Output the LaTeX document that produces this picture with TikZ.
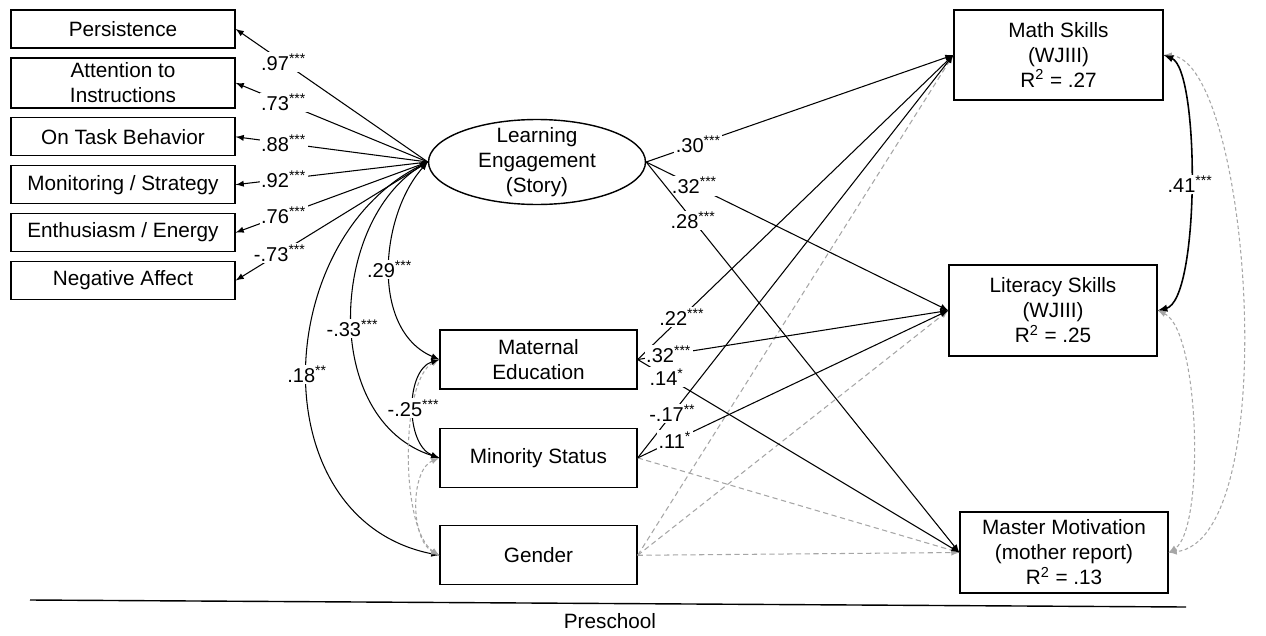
\documentclass[tikz,border=0pt]{standalone}
\usepackage{fontspec}
\setmainfont{Liberation Sans}
\usepackage{tikz}
\usetikzlibrary{positioning}
\usetikzlibrary{shapes.geometric}

\begin{document}
\begin{tikzpicture}[x=0.02cm, y=-0.02cm,
		font=\fontsize{11.8}{14.2}\selectfont,
		box/.style={draw, rectangle, line width=0.8pt, align=center, inner sep=1pt},
		coef/.style={fill=white, inner sep=0.8pt, font=\fontsize{11.4}{13}\selectfont},
		arr/.style={-latex, line width=0.6pt},
		nsarr/.style={-latex, line width=0.6pt, gray!70, dash pattern=on 3pt off 2pt},
		cov/.style={latex-latex, line width=0.6pt},
		nscov/.style={latex-latex, line width=0.6pt, gray!70, dash pattern=on 2pt off 1.5pt}]
		\useasboundingbox (0,0) rectangle (1266,635);

		% indicators of engagement
		\node[box, minimum width=4.48cm, minimum height=0.76cm] at (123,29) (pers) {Persistence};
		\node[below = 0.17cm of pers, box, minimum width=4.48cm, minimum height=1cm] (att) {Attention to\\Instructions};
		\node[below = 0.17cm of att, box, minimum width=4.48cm, minimum height=0.76cm] (task) {On Task Behavior};
		\node[below = 0.17cm of task, box, minimum width=4.48cm, minimum height=0.76cm] (mon) {Monitoring / Strategy};
		\node[below = 0.17cm of mon, box, minimum width=4.48cm, minimum height=0.76cm] (enth) {Enthusiasm / Energy};
		\node[below = 0.17cm of enth, box, minimum width=4.48cm, minimum height=0.76cm] (neg) {Negative Affect};

		\node[draw, ellipse, line width=0.8pt, align=center, inner xsep=0pt, inner ysep=-3pt, minimum width=4.34cm, minimum height=1.7cm] at (537,162) (eng) {Learning\\Engagement\\(Story)};

		% covariates
		\node[box, minimum width=3.94cm, minimum height=1.18cm] at (538.5,359.5) (medu) {Maternal\\Education};
		\node[below = 0.76cm of medu, box, minimum width=3.94cm, minimum height=1.18cm] (minor) {Minority Status};
		\node[below = 0.74cm of minor, box, minimum width=3.94cm, minimum height=1.18cm] (gend) {Gender};

		% outcomes
		\node[box, minimum width=4.18cm, minimum height=1.8cm] at (1058.5,55) (mathsk) {Math Skills\\(WJIII)\\R\textsuperscript{2} = .27};
		\node[box, minimum width=4.16cm, minimum height=1.82cm] at (1053,310.5) (litsk) {Literacy Skills\\(WJIII)\\R\textsuperscript{2} = .25};
		\node[box, minimum width=4.16cm, minimum height=1.62cm] at (1064,552.5) (mastmot) {Master Motivation\\(mother report)\\R\textsuperscript{2} = .13};

		% loadings
		\draw[arr] (eng.west) to node[coef, pos=0.75] {.97\textsuperscript{***}} (pers.east);
		\draw[arr] (eng.west) to node[coef, pos=0.75] {.73\textsuperscript{***}} (att.east);
		\draw[arr] (eng.west) to node[coef, pos=0.75] {.88\textsuperscript{***}} (task.east);
		\draw[arr] (eng.west) to node[coef, pos=0.75] {.92\textsuperscript{***}} (mon.east);
		\draw[arr] (eng.west) to node[coef, pos=0.75] {.76\textsuperscript{***}} (enth.east);
		\draw[arr] (eng.west) to node[coef, pos=0.77] {-.73\textsuperscript{***}} (neg.east);

		% covariances
		\draw[cov] (eng.west) .. controls (380,215) and (370,330) .. (medu.west) node[coef, pos=0.5] {.29\textsuperscript{***}};
		\draw[cov] (eng.west) .. controls (330,220) and (320,420) .. (minor.west) node[coef, pos=0.53] {-.33\textsuperscript{***}};
		\draw[cov] (eng.west) .. controls (270,240) and (260,520) .. (gend.west) node[coef, pos=0.5] {.18\textsuperscript{**}};
		\draw[nscov] (medu.west) .. controls (400,380) and (400,530) .. (gend.west);
		\draw[nscov] (minor.west) .. controls (410,470) and (410,540) .. (gend.west);
		\draw[cov] (medu.west) .. controls (405,370) and (405,445) .. (minor.west) node[coef, pos=0.5] {-.25\textsuperscript{***}};

		\draw[nscov] (mathsk.east) .. controls (1250,60) and (1285,540) .. (mastmot.east);
		\draw[nscov] (litsk.east) .. controls (1200,330) and (1205,530) .. (mastmot.east);
		\draw[cov, line width=0.9pt] (mathsk.east) .. controls (1200,70) and (1200,300) .. (litsk.east) node[coef, pos=0.5] {.41\textsuperscript{***}};

		% paths
		\draw[nsarr] (minor.east) to (mastmot.west);
		\draw[nsarr] (gend.east) to (mathsk.west);
		\draw[nsarr] (gend.east) to (litsk.west);
		\draw[nsarr] (gend.east) to (mastmot.west);
		\draw[arr] (eng.east) to node[coef, pos=0.17] {.30\textsuperscript{***}} (mathsk.west);
		\draw[arr] (eng.east) to node[coef, pos=0.16] {.32\textsuperscript{***}} (litsk.west);
		\draw[arr] (eng.east) to node[coef, pos=0.15] {.28\textsuperscript{***}} (mastmot.west);
		\draw[arr] (medu.east) to node[coef, pos=0.14] {.22\textsuperscript{***}} (mathsk.west);
		\draw[arr] (medu.east) to node[coef, pos=0.1] {.32\textsuperscript{***}} (litsk.west);
		\draw[arr] (medu.east) to node[coef, pos=0.09] {.14\textsuperscript{*}} (mastmot.west);
		\draw[arr] (minor.east) to node[coef, pos=0.11] {-.17\textsuperscript{**}} (mathsk.west);
		\draw[arr] (minor.east) to node[coef, pos=0.12] {.11\textsuperscript{*}} (litsk.west);

		% time line
		\draw[line width=0.8pt] (30,600) -- (1186,607);
		\node at (610,621) (pre) {Preschool};
	\end{tikzpicture}
\end{document}
